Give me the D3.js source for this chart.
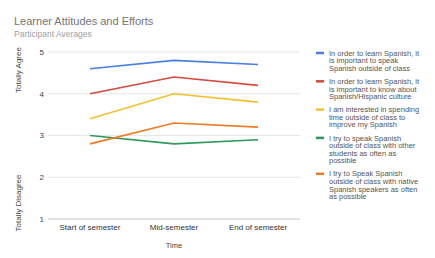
<!DOCTYPE html>
<html>
<head>
<meta charset="utf-8">
<script src="https://cdn.jsdelivr.net/npm/d3@7"></script>
<style>
  body { margin: 0; background: #fff; }
  text { font-family: "Liberation Sans", Arial, sans-serif; }
</style>
</head>
<body>
<script>
// chart data
const periods = ['Start of semester', 'Mid-semester', 'End of semester'];
const yTicks = [1, 2, 3, 4, 5];

const speakOutside = [4.6, 4.8, 4.7];
const knowCulture = [4.0, 4.4, 4.2];
const spendTime = [3.4, 4.0, 3.8];
const speakStudents = [3.0, 2.8, 2.9];
const speakNatives = [2.8, 3.3, 3.2];

const seriesNames = [
  ['In order to learn Spanish, it', 'is important to speak', 'Spanish outside of class'],
  ['In order to learn Spanish, it', 'is important to know about', 'Spanish/Hispanic culture'],
  ['I am interested in spending', 'time outside of class to', 'improve my Spanish'],
  ['I try to speak Spanish', 'outside of class with other', 'students as often as', 'possible'],
  ['I try to Speak Spanish', 'outside of class with native', 'Spanish speakers as often', 'as possible']
];
const seriesValues = [speakOutside, knowCulture, spendTime, speakStudents, speakNatives];
const colors = ['#4a7fe0', '#d64a3f', '#f2c12e', '#2f9a5c', '#f07a25'];

let width = 435, height = 258;

const svg = d3.select('body').append('svg')
    .attr('width', width)
    .attr('height', height);

// title
svg.append('text').attr('x', 14).attr('y', 25)
    .attr('font-size', 11).attr('fill', '#757575')
    .text('Learner Attitudes and Efforts');
svg.append('text').attr('x', 14).attr('y', 37)
    .attr('font-size', 8.5).attr('fill', '#a0a0a0')
    .text('Participant Averages');

const x = d3.scalePoint().domain(periods).range([48, 300]).padding(0.5);
const y = d3.scaleLinear().domain([1, 5]).range([219, 52]);

// grid
svg.selectAll('.grid')
    .data(yTicks)
    .enter().append('line')
    .attr('x1', 48).attr('x2', 300)
    .attr('y1', d => y(d)).attr('y2', d => y(d))
    .attr('stroke', d => d === 1 ? '#c8c8c8' : '#e6e6e6')
    .attr('stroke-width', 1);

svg.selectAll('.ytick')
    .data(yTicks)
    .enter().append('text')
    .attr('x', 44).attr('y', d => y(d))
    .attr('dy', '0.35em')
    .attr('text-anchor', 'end')
    .attr('font-size', 8).attr('fill', '#444')
    .text(d => d);

svg.selectAll('.xtick')
    .data(periods)
    .enter().append('text')
    .attr('x', d => x(d)).attr('y', 227)
    .attr('dy', '0.35em')
    .attr('text-anchor', 'middle')
    .attr('font-size', 8).attr('fill', '#333')
    .text(d => d);

svg.append('text').attr('x', 174).attr('y', 245).attr('dy', '0.35em')
    .attr('text-anchor', 'middle').attr('font-size', 7.5).attr('fill', '#444')
    .text('Time');

// y axis titles
svg.append('text').attr('transform', 'translate(18,70) rotate(-90)')
    .attr('dy', '0.35em').attr('text-anchor', 'middle')
    .attr('font-size', 8).attr('fill', '#444').text('Totally Agree');
svg.append('text').attr('transform', 'translate(18,203) rotate(-90)')
    .attr('dy', '0.35em').attr('text-anchor', 'middle')
    .attr('font-size', 8).attr('fill', '#444').text('Totally Disagree');

// lines
const line = d3.line().x((d, i) => x(periods[i])).y(d => y(d));
svg.selectAll('.series')
    .data(seriesValues)
    .enter().append('path')
    .attr('d', line)
    .attr('fill', 'none')
    .attr('stroke', (d, i) => colors[i])
    .attr('stroke-width', 1.6);

// legend
const lineH = 7.6;
let ly = 53;
seriesNames.forEach((lines, i) => {
  svg.append('line').attr('x1', 316).attr('x2', 324)
      .attr('y1', ly).attr('y2', ly)
      .attr('stroke', colors[i]).attr('stroke-width', 2.5);
  lines.forEach((t, j) => {
    svg.append('text').attr('x', 329).attr('y', ly + j * lineH)
        .attr('dy', '0.35em').attr('font-size', 7.5).attr('fill', '#555')
        .text(t);
  });
  ly += lines.length * lineH + 5.5;
});
</script>
</body>
</html>
